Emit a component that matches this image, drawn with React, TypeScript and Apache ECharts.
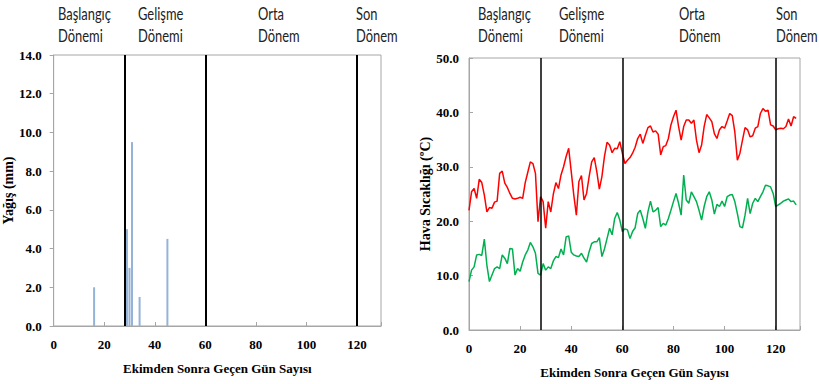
import React, { useEffect, useRef } from "react";
import * as echarts from "echarts";

const rainDays = [16, 29, 30, 31, 34, 45];
const rainMm = [2.0, 5.0, 3.0, 9.5, 1.5, 4.5];

const maxTemp = [
  22.0, 25.4, 26.0, 24.2, 27.7, 27.1, 24.8, 21.7, 22.5, 22.4,
  23.5, 23.7, 28.8, 29.2, 27.0, 26.2, 25.1, 24.2, 24.1, 24.2,
  24.4, 24.2, 27.1, 29.0, 30.9, 30.6, 28.8, 19.9, 24.5, 23.6,
  18.7, 23.6, 21.7, 25.0, 27.1, 26.0, 28.5, 30.0, 31.9, 33.4,
  29.1, 24.8, 21.1, 27.3, 28.4, 23.9, 25.1, 28.2, 30.9, 31.7,
  29.1, 25.9, 28.2, 31.9, 34.5, 34.0, 32.6, 33.4, 33.3, 34.6,
  32.5, 30.6, 31.2, 31.7, 32.5, 33.6, 35.2, 36.0, 34.3, 35.8,
  37.2, 37.5, 36.4, 36.6, 36.0, 32.2, 33.7, 33.9, 35.2, 37.7,
  39.2, 40.4, 37.4, 34.9, 37.4, 38.6, 38.6, 38.0, 38.6, 34.9,
  32.6, 34.0, 37.4, 39.6, 39.0, 38.3, 36.1, 35.2, 36.8, 37.4,
  37.1, 38.4, 39.8, 39.4, 36.4, 31.2, 32.5, 34.9, 37.2, 36.8,
  35.5, 35.7, 37.1, 37.4, 39.8, 40.7, 40.2, 40.4, 37.7, 37.5,
  36.8, 37.0, 37.1, 37.0, 37.4, 38.8, 37.5, 39.2, 38.9,
];

const minTemp = [
  8.9, 11.0, 11.6, 13.8, 13.9, 13.7, 16.7, 11.9, 8.9, 10.1,
  11.3, 11.6, 11.3, 13.8, 13.2, 12.2, 15.0, 14.9, 10.1, 11.3,
  10.8, 12.5, 13.8, 14.7, 16.1, 15.3, 14.1, 10.4, 10.1, 12.2,
  11.0, 11.6, 11.3, 12.7, 13.5, 13.3, 14.9, 13.8, 17.1, 17.3,
  14.3, 13.8, 13.6, 13.5, 14.1, 13.2, 12.5, 14.4, 15.9, 16.2,
  16.2, 17.0, 13.5, 14.9, 16.8, 18.7, 17.5, 20.5, 21.6, 20.2,
  18.1, 18.6, 18.4, 16.8, 18.1, 18.8, 21.4, 22.0, 20.5, 18.7,
  21.7, 23.7, 21.7, 22.0, 22.5, 19.0, 19.6, 19.3, 20.5, 22.0,
  23.6, 25.1, 23.3, 21.1, 28.5, 23.9, 23.3, 25.4, 24.5, 23.6,
  22.0, 20.2, 22.7, 24.5, 25.4, 23.9, 21.3, 23.1, 22.7, 23.7,
  22.7, 24.5, 24.8, 24.9, 23.6, 21.4, 19.0, 18.8, 21.1, 24.2,
  21.4, 23.3, 24.2, 23.6, 24.5, 25.4, 26.6, 26.5, 26.3, 25.1,
  22.7, 23.0, 23.3, 23.7, 23.9, 24.1, 23.6, 23.7, 23.0,
];

const periodDays = [28, 60, 120];
const periodLine1 = ["Başlangıç", "Gelişme", "Orta", "Son"];
const periodLine2 = ["Dönemi", "Dönemi", "Dönem", "Dönem"];
const leftPeriodX = [58, 138, 258, 356];
const rightPeriodX = [478, 559, 679, 776];

const xTicks = [0, 20, 40, 60, 80, 100, 120];
const xName = "Ekimden Sonra Geçen Gün Sayısı";

const GRAY = "#A6A6A6";
const SERIF = "'Liberation Serif', 'Times New Roman', serif";
const SANS = "Lato, 'Open Sans', sans-serif";

function xAxisCfg(gridIndex: number) {
  return {
    type: "value" as const,
    gridIndex,
    min: 0,
    max: 129.5,
    interval: 20,
    splitLine: { show: false },
    axisLine: { lineStyle: { color: GRAY, width: 1 } },
    axisTick: { inside: true, length: 4, lineStyle: { color: GRAY } },
    axisLabel: {
      color: "#000",
      fontFamily: SERIF,
      fontWeight: "bold" as const,
      fontSize: 13,
      margin: 12,
      formatter: (v: number) => (xTicks.includes(v) ? String(v) : ""),
    },
    name: xName,
    nameLocation: "middle" as const,
    nameGap: 36,
    nameTextStyle: {
      color: "#000",
      fontFamily: SERIF,
      fontWeight: "bold" as const,
      fontSize: 13,
    },
  };
}

function yAxisCfg(gridIndex: number, max: number, interval: number, name: string, inside: boolean, gap: number) {
  return {
    type: "value" as const,
    gridIndex,
    min: 0,
    max,
    interval,
    splitLine: { show: false },
    axisLine: { show: true, lineStyle: { color: GRAY, width: 1 } },
    axisTick: { show: true, inside, length: 4, lineStyle: { color: GRAY } },
    axisLabel: {
      color: "#000",
      fontFamily: SERIF,
      fontWeight: "bold" as const,
      fontSize: 13,
      margin: inside ? 10 : 12,
      formatter: (v: number) => v.toFixed(1),
    },
    name,
    nameLocation: "middle" as const,
    nameGap: gap,
    nameRotate: 90,
    nameTextStyle: {
      color: "#000",
      fontFamily: SERIF,
      fontWeight: "bold" as const,
      fontSize: 14,
    },
  };
}

function periodMarks(width: number) {
  return {
    silent: true,
    symbol: ["none", "none"],
    label: { show: false },
    lineStyle: { color: "#000", type: "solid" as const, width },
    data: periodDays.map((d) => ({ xAxis: d })),
  };
}

function periodTexts(xs: number[]) {
  const out: any[] = [];
  xs.forEach((x, i) => {
    out.push({
      type: "text",
      x,
      y: 2,
      scaleX: 0.76,
      style: {
        text: periodLine1[i] + "\n" + periodLine2[i],
        fill: "#222",
        font: `17px ${SANS}`,
        lineHeight: 22,
        align: "left",
        verticalAlign: "top",
      },
    });
  });
  return out;
}

export default function App() {
  const ref = useRef<HTMLDivElement>(null);
  useEffect(() => {
    if (!ref.current) return;
    const chart = echarts.init(ref.current, undefined, { renderer: "svg" });
    chart.setOption({
      animation: false,
      backgroundColor: "#fff",
      grid: [
        { left: 51, top: 55, width: 330, height: 271, show: true, borderColor: GRAY, borderWidth: 1 },
        { left: 469, top: 58, width: 331, height: 272, show: true, borderColor: GRAY, borderWidth: 1 },
      ],
      xAxis: [xAxisCfg(0), xAxisCfg(1)],
      yAxis: [
        yAxisCfg(0, 14, 2, "Yağış (mm)", false, 34),
        yAxisCfg(1, 50, 10, "Hava Sıcaklığı (ºC)", true, 31),
      ],
      graphic: [...periodTexts(leftPeriodX), ...periodTexts(rightPeriodX)],
      series: [
        {
          type: "bar",
          xAxisIndex: 0,
          yAxisIndex: 0,
          barWidth: 2,
          itemStyle: { color: "#95B3D7" },
          data: rainDays.map((d, i) => [d, rainMm[i]]),
          markLine: periodMarks(2),
        },
        {
          type: "line",
          xAxisIndex: 1,
          yAxisIndex: 1,
          showSymbol: false,
          symbol: "none",
          lineStyle: { color: "#FF0000", width: 1.5 },
          itemStyle: { color: "#FF0000" },
          data: maxTemp.map((v, i) => [i, v]),
          markLine: periodMarks(1.5),
        },
        {
          type: "line",
          xAxisIndex: 1,
          yAxisIndex: 1,
          showSymbol: false,
          symbol: "none",
          lineStyle: { color: "#00B050", width: 1.5 },
          itemStyle: { color: "#00B050" },
          data: minTemp.map((v, i) => [i, v]),
        },
      ],
    });
    return () => chart.dispose();
  }, []);
  return (
    <div
      ref={ref}
      style={{ position: "fixed", left: 0, top: 0, width: 819, height: 384, background: "#fff" }}
    />
  );
}
